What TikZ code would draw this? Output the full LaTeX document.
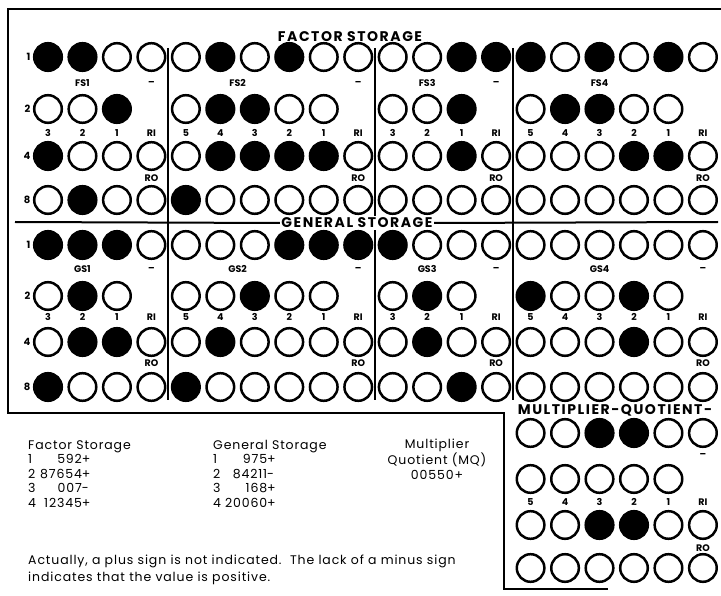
\documentclass[tikz,border=0pt]{standalone}
\usepackage{fontspec}
\setmainfont{Poppins}
\newfontfamily\titlefont[LetterSpace=11]{Poppins}
\newfontfamily\bodyfont[LetterSpace=7]{Poppins}
\begin{document}
\begin{tikzpicture}[x=1pt,y=-1pt,
  bit/.style={circle,draw=black,line width=2.5pt,minimum size=27.6pt,inner sep=0pt},
  s0/.style={bit,fill=white},
  s1/.style={bit,fill=black},
  frame/.style={line width=2.6pt,line cap=rect},
  divider/.style={line width=1.7pt},
  title/.style={font=\titlefont\bfseries\fontsize{14}{16}\selectfont,inner sep=1.5pt},
  lab/.style={font=\bfseries\fontsize{9.5}{11}\selectfont,inner sep=0pt},
  rowlab/.style={font=\bfseries\fontsize{10}{12}\selectfont,inner sep=0pt,anchor=east},
  body/.style={font=\bodyfont\fontsize{12.5}{14.5}\selectfont,inner sep=0pt}]
\useasboundingbox (0,0) rectangle (721,596);
\fill[white] (0,0) rectangle (721,596);
% frame
\draw[frame] (721,9) -- (8,9) -- (8,413) -- (504,413) -- (504,589) -- (607,589);
% dividers
\foreach \xx in {168,375,513} \draw[divider] (\xx,48) -- (\xx,400);
% titles
\node[title] (fstitle) at (350,37) {FACTOR STORAGE};
\node[title,fill=white] (gstitle) at (357,223) {GENERAL STORAGE};
\coordinate (gsl) at (15,222);
\coordinate (gsr) at (718,222);
\draw[line width=2pt] (gsl) -- (gstitle.west);
\draw[line width=2pt] (gstitle.east) -- (gsr);
\node[title] (mqtitle) at (615,410) {MULTIPLIER-QUOTIENT-};
% storage bits
\foreach \blk/\yy/\r/\pat in {
 fs/57/1/{1,1,0,0,0,1,0,1,0,0,0,0,1,1,1,0,1,0,1,0},
 fs/109/2/{0,0,1,9,0,1,1,0,0,9,0,0,1,9,0,1,1,0,0,9},
 fs/156/4/{1,0,0,0,0,1,1,1,1,0,0,0,1,0,0,0,0,1,1,0},
 fs/200/8/{0,1,0,0,1,0,0,0,0,0,0,0,0,0,0,0,0,0,0,0},
 gs/245/1/{1,1,1,0,0,0,0,1,1,1,1,0,0,0,0,0,0,0,0,0},
 gs/296/2/{0,1,0,9,0,0,1,0,0,9,0,1,0,9,1,0,0,1,0,9},
 gs/342/4/{0,1,1,0,0,1,0,0,0,0,0,1,0,0,0,0,0,1,0,0},
 gs/387/8/{1,0,0,0,1,0,0,0,0,0,0,0,1,0,0,0,0,0,0,0}}
{
  \node[rowlab] (\blk-rl-\r) at (30.5,\yy) {\r};
  \foreach \v [count=\c] in \pat {
    \ifnum\v<9 \node[s\v] (\blk-\r-\c) at ({48+34.47*(\c-1)},\yy) {}; \fi
  }
}
% MQ bits
\foreach \yy/\r/\pat in {
 433/1/{0,0,1,1,0,0},
 479/2/{0,0,0,0,0,9},
 525/3/{0,0,1,1,0,0},
 568/4/{0,0,0,0,0,0}}
{
  \foreach \v [count=\c] in \pat {
    \ifnum\v<9 \node[s\v] (mq-\r-\c) at ({48+34.47*(\c+13)},\yy) {}; \fi
  }
}
% group names and minus labels
\foreach \blk/\nm/\yy in {fs/FS/83, gs/GS/269} {
  \node[lab] (\blk-n1) at ({48+34.47*1},\yy) {\nm1};
  \node[lab] (\blk-n2) at ({48+34.47*5.5},\yy) {\nm2};
  \node[lab] (\blk-n3) at ({48+34.47*11},\yy) {\nm3};
  \node[lab] (\blk-n4) at ({48+34.47*16},\yy) {\nm4};
  \node[lab] (\blk-m1) at ({48+34.47*3},\yy) {--};
  \node[lab] (\blk-m2) at ({48+34.47*9},\yy) {--};
  \node[lab] (\blk-m3) at ({48+34.47*13},\yy) {--};
}
\node[lab] (gs-m4) at ({48+34.47*19},269) {--};
\node[lab] (mq-m) at ({48+34.47*19},455) {--};
% digit labels and RO
\foreach \blk/\yy/\yo in {fs/133/178, gs/317/363} {
  \foreach \t [count=\c] in {3,2,1,RI,5,4,3,2,1,RI,3,2,1,RI,5,4,3,2,1,RI}
    \node[lab] (\blk-d-\c) at ({48+34.47*(\c-1)},\yy) {\t};
  \foreach \c in {4,10,14,20}
    \node[lab] (\blk-ro-\c) at ({48+34.47*(\c-1)},\yo) {RO};
}
\foreach \t [count=\c] in {5,4,3,2,1,RI}
  \node[lab] (mq-d-\c) at ({48+34.47*(\c+13)},502) {\t};
\node[lab] (mq-ro) at ({48+34.47*19},548) {RO};
% bottom text
\node[body,anchor=north west] (fstab) at (28,439) {%
  \begin{tabular}{@{}l@{\hspace{4pt}}r@{}l@{}}
  \multicolumn{3}{@{}l@{}}{Factor Storage}\\
  1 & 592 & +\\
  2 & 87654 & +\\
  3 & 007 & -\\
  4 & 12345 & +
  \end{tabular}};
\node[body,anchor=north west] (gstab) at (213,439) {%
  \begin{tabular}{@{}l@{\hspace{4pt}}r@{}l@{}}
  \multicolumn{3}{@{}l@{}}{General Storage}\\
  1 & 975 & +\\
  2 & 84211 & -\\
  3 & 168 & +\\
  4 & 20060 & +
  \end{tabular}};
\node[body,anchor=north,align=center] (mqtab) at (437,439) {Multiplier\\Quotient (MQ)\\00550+};
\node[body,anchor=north west,align=left,font=\bodyfont\fontsize{12.5}{17}\selectfont] (note) at (28,555)
  {Actually, a plus sign is not indicated.\ \ The lack of a minus sign\\indicates that the value is positive.};
\end{tikzpicture}
\end{document}
